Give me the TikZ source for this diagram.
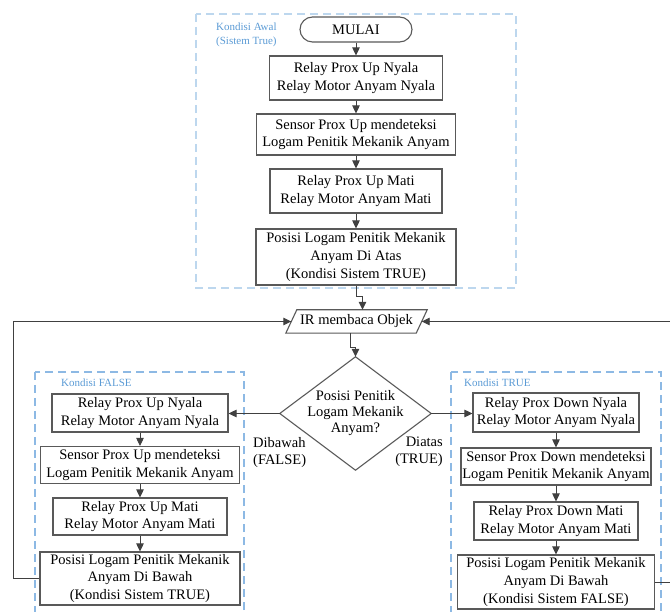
\documentclass[tikz,border=0pt]{standalone}
\usepackage{fontspec}
\setmainfont{Liberation Serif}
\usetikzlibrary{arrows.meta}
\definecolor{edge}{HTML}{595959}
\definecolor{wirec}{HTML}{404040}
\definecolor{zoneA}{HTML}{BDD7EE}
\definecolor{zoneB}{HTML}{8DB9E4}
\definecolor{zonetxt}{HTML}{5B9BD5}

\begin{document}
\begin{tikzpicture}[x=1pt,y=-1pt,
  proc/.style={draw=edge, line width=1.1pt, fill=white, align=center, inner sep=0pt,
               font=\fontsize{14.5}{17.7}\selectfont},
  arr/.style={draw=wirec, line width=0.9pt, -{Triangle[length=8pt,width=7.5pt]}},
  zone/.style={dash pattern=on 8pt off 5pt, line width=1.5pt},
  zlabel/.style={text=zonetxt, font=\fontsize{11}{13.5}\selectfont, align=left,
                 anchor=north west, inner sep=0pt},
  lbl/.style={font=\fontsize{14.5}{17}\selectfont, inner sep=0pt}]

\clip (0,0) rectangle (670,612);

% dashed zones
\draw[zone, draw=zoneA] (196,14) rectangle (516,288);
\draw[zone, draw=zoneB] (35,372) rectangle (244,640);
\draw[zone, draw=zoneB] (451,372) rectangle (661,640);

\node[zlabel] (lz0) at (216,23) {Kondisi Awal\\(Sistem True)};
\node[zlabel] (lz1) at (61,379) {Kondisi FALSE};
\node[zlabel] (lz2) at (464,379) {Kondisi TRUE};

% initial sequence
\node[proc, rounded corners=12.5pt, minimum width=112pt, minimum height=25pt] (mulai) at (356,29.5) {MULAI};
\node[proc, minimum width=173pt, minimum height=44pt] (a1) at (356,78) {Relay Prox Up Nyala\\Relay Motor Anyam Nyala};
\node[proc, minimum width=199pt, minimum height=41pt] (a2) at (356,134.5) {Sensor Prox Up mendeteksi\\Logam Penitik Mekanik Anyam};
\node[proc, minimum width=172pt, minimum height=44pt] (a3) at (356,191) {Relay Prox Up Mati\\Relay Motor Anyam Mati};
\node[proc, minimum width=200pt, minimum height=56pt] (a4) at (356,257) {Posisi Logam Penitik Mekanik\\Anyam Di Atas\\(Kondisi Sistem TRUE)};

% input (parallelogram)
\node[inner sep=0pt, minimum width=130pt, minimum height=23pt] (ir) at (356.5,321.5) {};
\draw[draw=edge, line width=1.1pt, fill=white] ([xshift=-5.5pt]ir.south west) -- ([xshift=5.5pt]ir.north west)
  -- ([xshift=5.5pt]ir.north east) -- ([xshift=-5.5pt]ir.south east) -- cycle;
\node[inner sep=0pt, font=\fontsize{14.5}{17}\selectfont] (irt) at (ir) {IR membaca Objek};

% decision (diamond)
\node[inner sep=0pt, minimum width=151pt, minimum height=113pt] (dia) at (355.5,413.5) {};
\draw[draw=edge, line width=1.1pt] (dia.north) -- (dia.east) -- (dia.south) -- (dia.west) -- cycle;
\node[align=center, inner sep=0pt, font=\fontsize{14.5}{16}\selectfont] (diat) at (dia) {Posisi Penitik\\Logam Mekanik\\Anyam?};

\node[lbl, align=left, anchor=north west] (lf) at (253,437) {Dibawah\\(FALSE)};
\node[lbl, align=right, anchor=north east] (lt) at (443,437) {Diatas\\(TRUE)};

% FALSE branch
\node[proc, minimum width=176pt, minimum height=38pt] (f1) at (140,413) {Relay Prox Up Nyala\\Relay Motor Anyam Nyala};
\node[proc, minimum width=199pt, minimum height=37pt] (f2) at (140,465) {Sensor Prox Up mendeteksi\\Logam Penitik Mekanik Anyam};
\node[proc, minimum width=174pt, minimum height=37pt] (f3) at (140,516.5) {Relay Prox Up Mati\\Relay Motor Anyam Mati};
\node[proc, minimum width=200pt, minimum height=53pt] (f4) at (140,578.5) {Posisi Logam Penitik Mekanik\\Anyam Di Bawah\\(Kondisi Sistem TRUE)};

% TRUE branch
\node[proc, minimum width=166pt, minimum height=39pt] (t1) at (556,412.5) {Relay Prox Down Nyala\\Relay Motor Anyam Nyala};
\node[proc, minimum width=190pt, minimum height=37pt] (t2) at (556,466.5) {Sensor Prox Down mendeteksi\\Logam Penitik Mekanik Anyam};
\node[proc, minimum width=164pt, minimum height=38pt] (t3) at (556,521) {Relay Prox Down Mati\\Relay Motor Anyam Mati};
\node[proc, minimum width=197pt, minimum height=54pt] (t4) at (556,582) {Posisi Logam Penitik Mekanik\\Anyam Di Bawah\\(Kondisi Sistem FALSE)};

% connectors
\draw[arr] (mulai.south) -- (a1.north);
\draw[arr] (a1.south) -- (a2.north);
\draw[arr] (a2.south) -- (a3.north);
\draw[arr] (a3.south) -- (a4.north);
\draw[arr] (a4.south) -- ++(0,11) -| ([xshift=6pt]ir.north);
\draw[arr] ([xshift=-6pt]ir.south) -- ++(0,14) -| (dia.north);
\draw[arr] (dia.west) -- (dia.west -| f1.east);
\draw[arr] (dia.east) -- (dia.east -| t1.west);

\draw[arr] (f1.south) -- (f2.north);
\draw[arr] (f2.south) -- (f3.north);
\draw[arr] (f3.south) -- (f4.north);
\draw[arr] (t1.south) -- (t2.north);
\draw[arr] (t2.south) -- (t3.north);
\draw[arr] (t3.south) -- (t4.north);

% loops back to the input
\draw[arr] (f4.west) -- ++(-26,0) |- (ir.west);
\draw[arr] (t4.east) -- ++(30,0) |- (ir.east);
\end{tikzpicture}
\end{document}
